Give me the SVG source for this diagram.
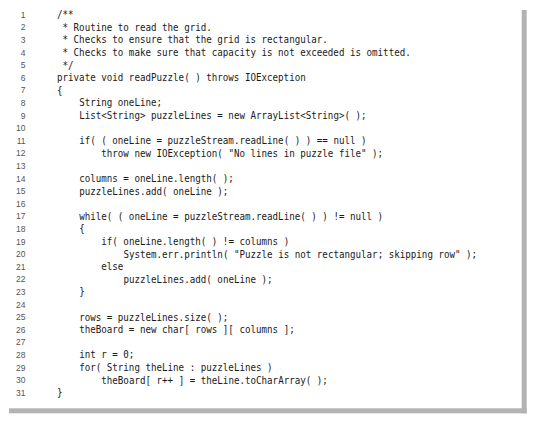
<svg xmlns="http://www.w3.org/2000/svg" width="537" height="421" viewBox="0 0 537 421">
<style>
.code{font-family:"DejaVu Sans Mono","Liberation Mono",monospace;font-size:10px;fill:#1a1a1a;}
.num{font-family:"Liberation Sans","DejaVu Sans",sans-serif;font-size:8.5px;fill:#555;text-anchor:end;}
.shadow{fill:#b3b3b3;}
</style>
<rect width="537" height="421" fill="#fff"/>
<g id="frame">
<rect class="shadow" x="521.7" y="10" width="5" height="403.3"/>
<rect class="shadow" x="9" y="408.3" width="517.7" height="5"/>
</g>
<g id="line-numbers">
<text class="num" x="25.5" y="17.8">1</text>
<text class="num" x="25.5" y="30.4">2</text>
<text class="num" x="25.5" y="43">3</text>
<text class="num" x="25.5" y="55.6">4</text>
<text class="num" x="25.5" y="68.2">5</text>
<text class="num" x="25.5" y="80.8">6</text>
<text class="num" x="25.5" y="93.4">7</text>
<text class="num" x="25.5" y="106">8</text>
<text class="num" x="25.5" y="118.6">9</text>
<text class="num" x="25.5" y="131.2">10</text>
<text class="num" x="25.5" y="143.8">11</text>
<text class="num" x="25.5" y="156.4">12</text>
<text class="num" x="25.5" y="169">13</text>
<text class="num" x="25.5" y="181.6">14</text>
<text class="num" x="25.5" y="194.2">15</text>
<text class="num" x="25.5" y="206.8">16</text>
<text class="num" x="25.5" y="219.4">17</text>
<text class="num" x="25.5" y="232">18</text>
<text class="num" x="25.5" y="244.6">19</text>
<text class="num" x="25.5" y="257.2">20</text>
<text class="num" x="25.5" y="269.8">21</text>
<text class="num" x="25.5" y="282.4">22</text>
<text class="num" x="25.5" y="295">23</text>
<text class="num" x="25.5" y="307.6">24</text>
<text class="num" x="25.5" y="320.2">25</text>
<text class="num" x="25.5" y="332.8">26</text>
<text class="num" x="25.5" y="345.4">27</text>
<text class="num" x="25.5" y="358">28</text>
<text class="num" x="25.5" y="370.6">29</text>
<text class="num" x="25.5" y="383.2">30</text>
<text class="num" x="25.5" y="395.8">31</text>
</g>
<g id="code" transform="translate(57,0) scale(0.919,1)">
<text class="code" x="0" y="18.2">/**</text>
<text class="code" x="6.02" y="30.8">* Routine to read the grid.</text>
<text class="code" x="6.02" y="43.4">* Checks to ensure that the grid is rectangular.</text>
<text class="code" x="6.02" y="56">* Checks to make sure that capacity is not exceeded is omitted.</text>
<text class="code" x="6.02" y="68.6">*/</text>
<text class="code" x="0" y="81.2">private void readPuzzle( ) throws IOException</text>
<text class="code" x="0" y="93.8">{</text>
<text class="code" x="24.08" y="106.4">String oneLine;</text>
<text class="code" x="24.08" y="119">List&lt;String&gt; puzzleLines = new ArrayList&lt;String&gt;( );</text>
<text class="code" x="24.08" y="144.2">if( ( oneLine = puzzleStream.readLine( ) ) == null )</text>
<text class="code" x="48.16" y="156.8">throw new IOException( "No lines in puzzle file" );</text>
<text class="code" x="24.08" y="182">columns = oneLine.length( );</text>
<text class="code" x="24.08" y="194.6">puzzleLines.add( oneLine );</text>
<text class="code" x="24.08" y="219.8">while( ( oneLine = puzzleStream.readLine( ) ) != null )</text>
<text class="code" x="24.08" y="232.4">{</text>
<text class="code" x="48.16" y="245">if( oneLine.length( ) != columns )</text>
<text class="code" x="72.24" y="257.6">System.err.println( "Puzzle is not rectangular; skipping row" );</text>
<text class="code" x="48.16" y="270.2">else</text>
<text class="code" x="72.24" y="282.8">puzzleLines.add( oneLine );</text>
<text class="code" x="24.08" y="295.4">}</text>
<text class="code" x="24.08" y="320.6">rows = puzzleLines.size( );</text>
<text class="code" x="24.08" y="333.2">theBoard = new char[ rows ][ columns ];</text>
<text class="code" x="24.08" y="358.4">int r = 0;</text>
<text class="code" x="24.08" y="371">for( String theLine : puzzleLines )</text>
<text class="code" x="48.16" y="383.6">theBoard[ r++ ] = theLine.toCharArray( );</text>
<text class="code" x="0" y="396.2">}</text>
</g>
</svg>
